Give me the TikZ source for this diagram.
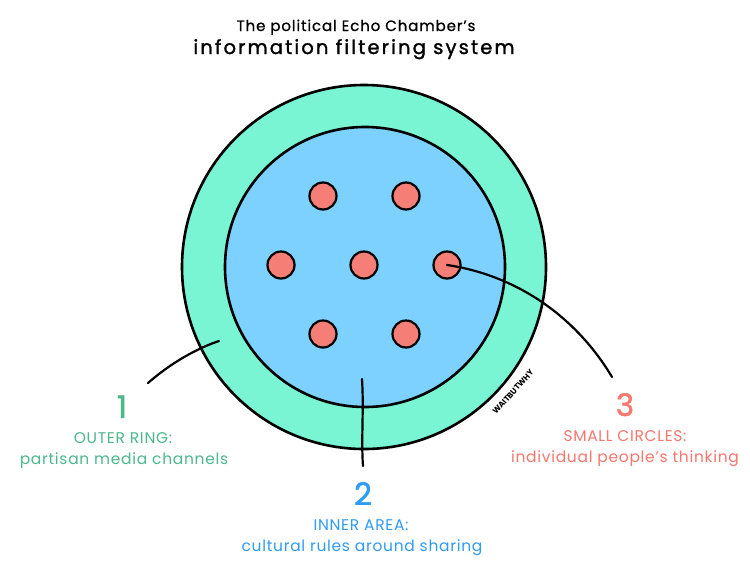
\documentclass[tikz,border=0pt]{standalone}
\usepackage{fontspec}
\setmainfont{Poppins}
\begin{document}
\begin{tikzpicture}[x=1pt,y=-1pt,
  ringc/.style={circle,draw=black,line width=2.6pt,fill=ringfill,inner sep=0pt},
  innerc/.style={circle,draw=black,line width=2.6pt,fill=innerfill,inner sep=0pt},
  dot/.style={circle,draw=black,line width=2.2pt,fill=dotfill,inner sep=0pt,minimum size=27pt},
  conn/.style={draw=black,line width=2.2pt,line cap=round},
  num/.style={anchor=base,font=\fontsize{31}{31}\selectfont\addfontfeature{FakeBold=1.5}},
  lab/.style={anchor=base,font=\fontsize{15.5}{17}\selectfont\addfontfeature{LetterSpace=4.5}},
  title/.style={anchor=base,text=black}]
\definecolor{ringfill}{HTML}{7AF5D3}
\definecolor{innerfill}{HTML}{7DD1FF}
\definecolor{dotfill}{HTML}{F57E76}
\definecolor{greentxt}{HTML}{4DB88C}
\definecolor{bluetxt}{HTML}{2F9CF4}
\definecolor{redtxt}{HTML}{F7766E}
\useasboundingbox[fill=white] (0,0) rectangle (750,571);
% title
\node[title,font=\fontsize{15}{18}\selectfont\addfontfeature{LetterSpace=6,FakeBold=0.8}] (t1) at (356,31) {The political Echo Chamber's};
\node[title,font=\fontsize{19.5}{24}\selectfont\addfontfeature{LetterSpace=11,FakeBold=1.4}] (t2) at (354,54) {information filtering system};
% circles
\node[ringc,minimum size=364pt] (outer) at (364,267) {};
\node[innerc,minimum size=280pt] (inner) at (365,267) {};
\node[dot] (d1) at (323,196) {};
\node[dot] (d2) at (406,196) {};
\node[dot] (d3) at (281,265) {};
\node[dot] (d4) at (364,265) {};
\node[dot] (d5) at (447,265) {};
\node[dot] (d6) at (323,334) {};
\node[dot] (d7) at (406,334) {};
% watermark
\node[rotate=48,font=\fontsize{8}{8}\selectfont\bfseries,inner sep=0pt] (wm) at (513,392) {WAITBUTWHY};
% connectors
\coordinate (c1a) at (148,383);
\coordinate (c1b) at (219,341);
\coordinate (c2a) at (362,379);
\coordinate (c2b) at (363,466);
\coordinate (c3b) at (612,377);
\draw[conn] (c1a) .. controls (172,362) and (198,348) .. (c1b);
\draw[conn] (c2a) .. controls (364,410) and (361,440) .. (c2b);
\draw[conn] (d5.center) .. controls (515,275) and (575,315) .. (c3b);
% labels
\node[num,text=greentxt] (n1) at (122,418) {1};
\node[lab,text=greentxt] (l1a) at (123,443) {OUTER RING:};
\node[lab,text=greentxt] (l1b) at (124,464) {partisan media channels};
\node[num,text=bluetxt] (n2) at (363,505) {2};
\node[lab,text=bluetxt] (l2a) at (361,530) {INNER AREA:};
\node[lab,text=bluetxt] (l2b) at (362,551) {cultural rules around sharing};
\node[num,text=redtxt] (n3) at (625,416) {3};
\node[lab,text=redtxt] (l3a) at (625,441) {SMALL CIRCLES:};
\node[lab,text=redtxt] (l3b) at (625,462) {individual people's thinking};
\end{tikzpicture}
\end{document}
